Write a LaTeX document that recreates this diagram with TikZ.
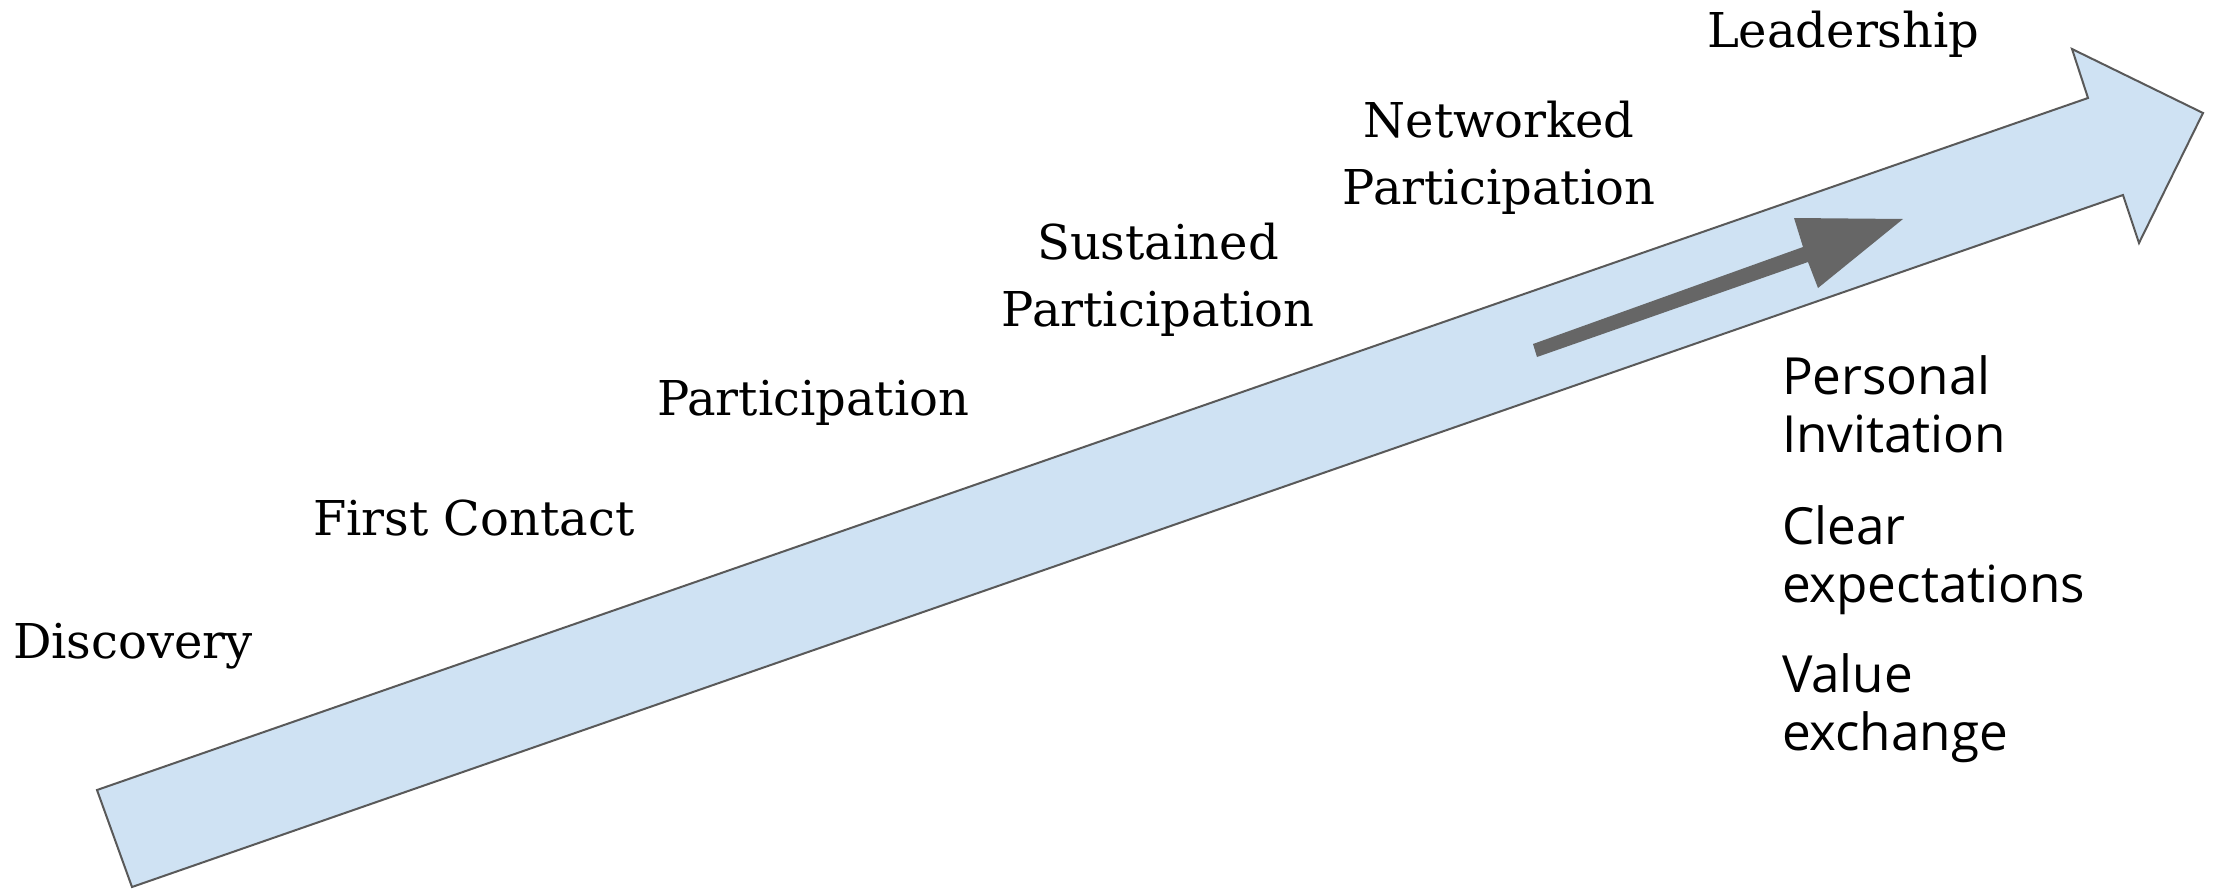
\documentclass[tikz,border=0pt]{standalone}
\usepackage{fontspec}
\newfontfamily\slabfont{DejaVu Serif}
\newfontfamily\plainsans{Open Sans}
\definecolor{arrowfill}{HTML}{CFE2F3}
\definecolor{arrowline}{HTML}{595959}
\definecolor{darkarrow}{HTML}{666666}
\begin{document}
\begin{tikzpicture}[x=0.5pt,y=-0.5pt,
  stage/.style={inner sep=0pt, outer sep=0pt, font=\slabfont\fontsize{24}{33.5}\selectfont},
  factor/.style={inner sep=0pt, outer sep=0pt, anchor=base west, font=\plainsans\fontsize{25.6}{29}\selectfont}]
\useasboundingbox (0,0) rectangle (2217,889);
% big arrow
\draw[fill=arrowfill, draw=arrowline, line width=1pt, line join=miter]
  (97,790) -- (2088,98) -- (2072,49) -- (2203,113) -- (2139,243) -- (2123,195) -- (132,887) -- cycle;
% small dark arrow
\fill[darkarrow] (1533,344) -- (1803,247) -- (1794,218) -- (1903,219) -- (1818,288) -- (1808,262) -- (1537,357) -- cycle;
% stages
\node[stage, anchor=base west] (disc) at (13,658) {Discovery};
\node[stage, anchor=base west] (first) at (313,535) {First Contact};
\node[stage, anchor=base west] (part) at (657,415) {Participation};
\node[stage, anchor=base] (sust) at (1158,259) {\setlength{\tabcolsep}{0pt}\begin{tabular}[t]{c}Sustained\\Participation\end{tabular}};
\node[stage, anchor=base] (netw) at (1499,137) {\setlength{\tabcolsep}{0pt}\begin{tabular}[t]{c}Networked\\Participation\end{tabular}};
\node[stage, anchor=base west] (lead) at (1707,47) {Leadership};
% factors
\node[factor] (pers) at (1782,394) {\setlength{\tabcolsep}{0pt}\begin{tabular}[t]{l}Personal\\Invitation\end{tabular}};
\node[factor] (clear) at (1782,544) {\setlength{\tabcolsep}{0pt}\begin{tabular}[t]{l}Clear\\expectations\end{tabular}};
\node[factor] (value) at (1782,692) {\setlength{\tabcolsep}{0pt}\begin{tabular}[t]{l}Value\\exchange\end{tabular}};
\end{tikzpicture}
\end{document}
